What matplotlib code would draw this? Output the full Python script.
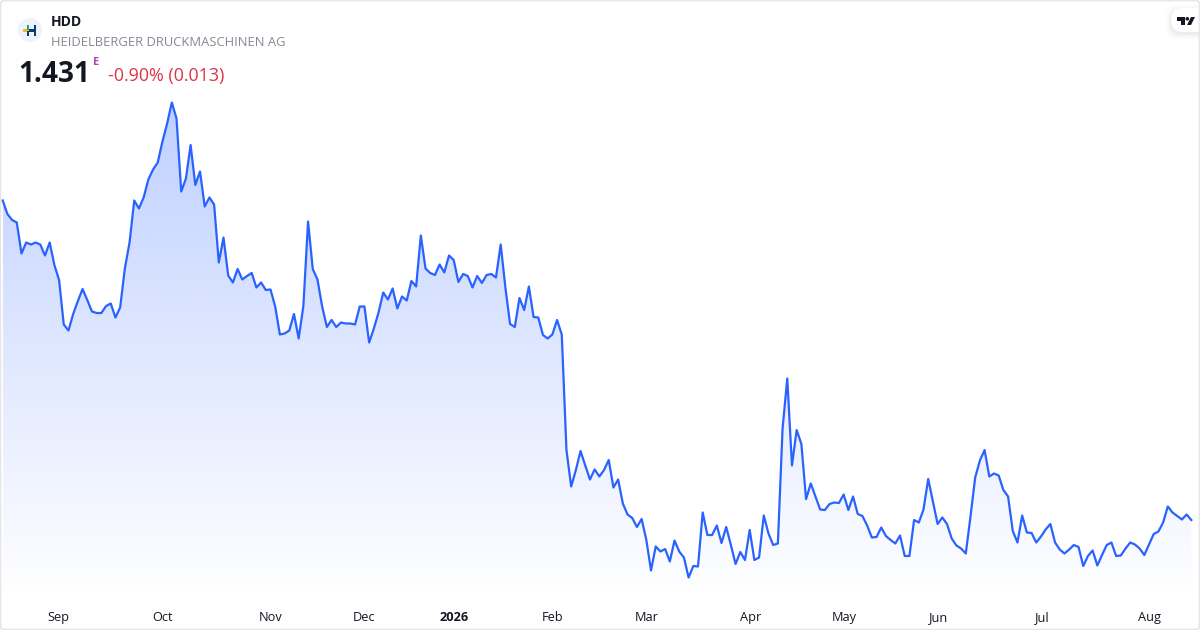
#!/usr/bin/env python3
"""HDD one year price chart with a gradient area under the line."""
import numpy as np
import matplotlib
matplotlib.use('Agg')
import matplotlib.pyplot as plt
from matplotlib.patches import Circle, FancyBboxPatch, Polygon, Rectangle

plt.rcParams['font.family'] = ['Open Sans', 'Noto Sans', 'DejaVu Sans']

TICKER = 'HDD'
NAME = 'HEIDELBERGER DRUCKMASCHINEN AG'
LAST = '1.431'
CHANGE = '-0.90% (0.013)'

prices = [
    2.070, 2.043, 2.031, 2.026, 1.964, 1.986, 1.982, 1.986, 1.982, 1.960, 1.986, 1.941, 1.911,
    1.822, 1.810, 1.843, 1.869, 1.893, 1.871, 1.848, 1.845, 1.845, 1.859, 1.864, 1.836, 1.856,
    1.934, 1.986, 2.070, 2.054, 2.076, 2.112, 2.132, 2.146, 2.188, 2.224, 2.266, 2.234, 2.088,
    2.114, 2.181, 2.101, 2.128, 2.058, 2.076, 2.062, 1.946, 1.996, 1.920, 1.906, 1.933, 1.912,
    1.919, 1.925, 1.896, 1.906, 1.891, 1.892, 1.858, 1.802, 1.804, 1.810, 1.843, 1.794, 1.859,
    2.028, 1.933, 1.912, 1.858, 1.817, 1.831, 1.817, 1.826, 1.824, 1.824, 1.822, 1.858, 1.858,
    1.786, 1.814, 1.846, 1.886, 1.872, 1.894, 1.854, 1.878, 1.870, 1.909, 1.898, 2.000, 1.934,
    1.925, 1.921, 1.942, 1.926, 1.960, 1.951, 1.907, 1.923, 1.919, 1.896, 1.919, 1.905, 1.921,
    1.923, 1.916, 1.982, 1.896, 1.823, 1.817, 1.875, 1.851, 1.898, 1.837, 1.836, 1.801, 1.794,
    1.802, 1.831, 1.802, 1.571, 1.498, 1.531, 1.569, 1.540, 1.512, 1.532, 1.518, 1.531, 1.551,
    1.496, 1.512, 1.464, 1.442, 1.435, 1.417, 1.433, 1.391, 1.330, 1.378, 1.368, 1.373, 1.348,
    1.390, 1.368, 1.356, 1.316, 1.339, 1.338, 1.446, 1.401, 1.401, 1.420, 1.385, 1.417, 1.381,
    1.343, 1.367, 1.351, 1.411, 1.351, 1.356, 1.440, 1.404, 1.381, 1.384, 1.614, 1.714, 1.540,
    1.611, 1.583, 1.473, 1.504, 1.478, 1.452, 1.451, 1.463, 1.466, 1.465, 1.482, 1.451, 1.478,
    1.443, 1.439, 1.420, 1.396, 1.397, 1.416, 1.399, 1.391, 1.384, 1.400, 1.359, 1.359, 1.431,
    1.426, 1.452, 1.513, 1.468, 1.423, 1.436, 1.423, 1.394, 1.380, 1.374, 1.364, 1.438, 1.516,
    1.550, 1.571, 1.518, 1.524, 1.520, 1.491, 1.478, 1.409, 1.386, 1.440, 1.406, 1.405, 1.386,
    1.398, 1.412, 1.423, 1.386, 1.372, 1.364, 1.372, 1.381, 1.377, 1.339, 1.359, 1.370, 1.340,
    1.361, 1.381, 1.386, 1.359, 1.360, 1.374, 1.386, 1.382, 1.374, 1.361, 1.382, 1.403, 1.408,
    1.426, 1.458, 1.446, 1.439, 1.432, 1.442, 1.431,
]
tick_bars = [11.8, 34, 57, 77, 96, 117, 137, 159.2, 179.2, 199.3, 221.2, 244]
tick_labels = ['Sep', 'Oct', 'Nov', 'Dec', '2026', 'Feb', 'Mar', 'Apr', 'May', 'Jun', 'Jul', 'Aug']

n = len(prices)
x = np.arange(n)
y = np.array(prices)

# map bars and prices onto the 1200x630 canvas
px_first, px_last = 2.7, 1191.3
step = (px_last - px_first) / (n - 1)
xlim = (-px_first / step, (1200 - px_first) / step)
ylim = (1.211, 2.471)

fig = plt.figure(figsize=(12, 6.3), dpi=100, facecolor='white')
ax = fig.add_axes([0, 0, 1, 1])
ax.set_xlim(xlim)
ax.set_ylim(ylim)
ax.axis('off')

# gradient area
floor = 1.271
grad = np.zeros((256, 2, 4))
grad[..., 0] = 41 / 255
grad[..., 1] = 98 / 255
grad[..., 2] = 255 / 255
grad[..., 3] = np.linspace(0.30, 0.0, 256)[:, None]
im = ax.imshow(grad, extent=(x[0], x[-1], floor, y.max()), origin='upper',
               aspect='auto', interpolation='bilinear', zorder=1)
poly = Polygon(np.vstack([np.column_stack([x, y]), [x[-1], floor], [x[0], floor]]),
               closed=True, transform=ax.transData, facecolor='none', edgecolor='none')
ax.add_patch(poly)
im.set_clip_path(poly)
ax.set_xlim(xlim)
ax.set_ylim(ylim)

ax.plot(x, y, color='#2962ff', linewidth=1.6, solid_joinstyle='round', zorder=3)

# overlay in pixel coordinates for the card, header and labels
ov = fig.add_axes([0, 0, 1, 1], facecolor='none')
ov.set_xlim(0, 1200)
ov.set_ylim(630, 0)
ov.axis('off')

for tx, lab in zip(tick_bars, tick_labels):
    px = px_first + tx * step
    ov.text(px, 617.5, lab, ha='center', va='center', fontsize=9.2, color='#131722',
            fontweight='bold' if lab == '2026' else 'normal')

# logo
ov.add_patch(Circle((30, 30), 12, facecolor='#eef2fa', edgecolor='none'))
ov.add_patch(Rectangle((23, 29), 8, 2.6, facecolor='#f5b81c', edgecolor='none'))
ov.add_patch(Rectangle((26.5, 25), 2.6, 5, facecolor='#1fa97a', edgecolor='none'))
ov.add_patch(Rectangle((26.5, 31), 2.6, 5, facecolor='#0b3d74', edgecolor='none'))
ov.add_patch(Rectangle((33.5, 25), 2.6, 11, facecolor='#0b3d74', edgecolor='none'))
ov.add_patch(Rectangle((29, 29), 5, 2.6, facecolor='#0b3d74', edgecolor='none'))

ov.text(51, 22, TICKER, ha='left', va='center', fontsize=10, fontweight='bold', color='#131722')
ov.text(51, 42, NAME, ha='left', va='center', fontsize=9.4, color='#868993')
ov.text(18.5, 74, LAST, ha='left', va='center', fontsize=20.2, fontweight='bold', color='#131722')
ov.text(93, 62.5, 'E', ha='left', va='center', fontsize=8, fontweight='bold', color='#ab47bc')
ov.text(108, 76, CHANGE, ha='left', va='center', fontsize=12.9, color='#dc3545')

# TradingView badge, soft shadow below a white pill
for grow, alpha in zip([5, 3.5, 2, 1], [0.012, 0.016, 0.02, 0.025]):
    ov.add_patch(FancyBboxPatch((1171 - grow, 8 - grow + 2), 50 + grow, 24 + 2 * grow,
                                boxstyle='round,pad=0,rounding_size=12',
                                facecolor='black', edgecolor='none', alpha=alpha))
ov.add_patch(FancyBboxPatch((1171, 8), 50, 24, boxstyle='round,pad=0,rounding_size=12',
                            facecolor='white', edgecolor='none'))
ov.add_patch(Polygon([(1177, 17), (1185, 17), (1185, 25), (1181, 25), (1181, 20.5), (1177, 20.5)],
                     closed=True, facecolor='#131722', edgecolor='none'))
ov.add_patch(Circle((1187.3, 18.8), 1.8, facecolor='#131722', edgecolor='none'))
ov.add_patch(Polygon([(1191, 17), (1195, 17), (1191, 25), (1187, 25)],
                     closed=True, facecolor='#131722', edgecolor='none'))

# card border on top of everything
ov.add_patch(FancyBboxPatch((0.5, 0.5), 1199, 629, boxstyle='round,pad=0,rounding_size=4',
                            facecolor='none', edgecolor='#e6e6e6', linewidth=1.2))

fig.savefig('out.png', dpi=100)
